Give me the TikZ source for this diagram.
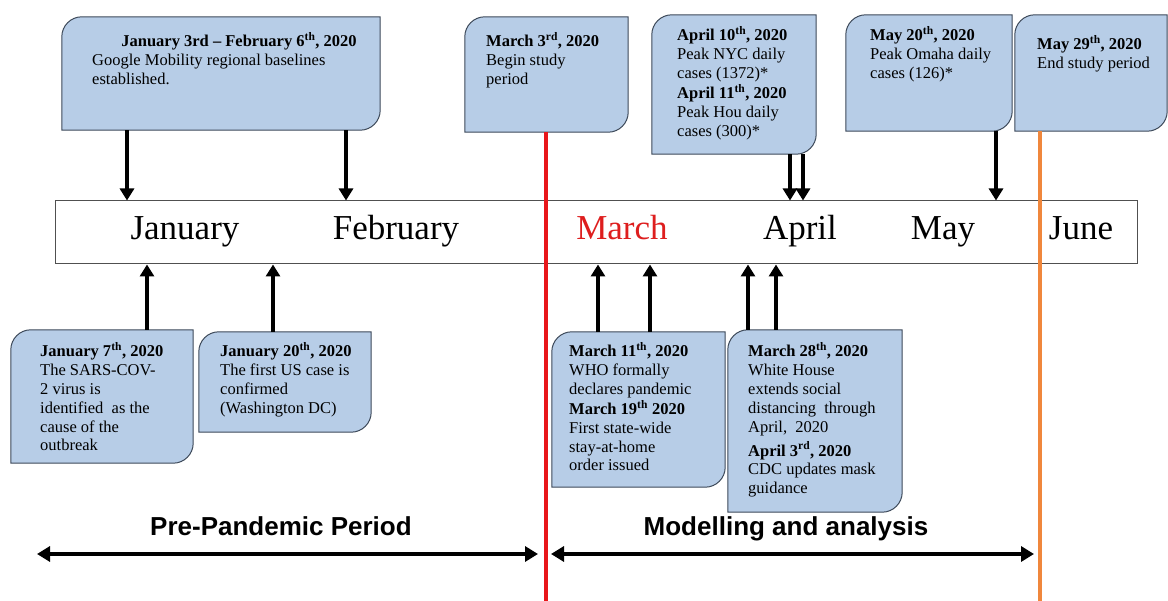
\documentclass[tikz,border=0pt]{standalone}
\usepackage{fontspec}
\setmainfont{Liberation Serif}
\newfontfamily\arialfont{Liberation Sans}
\usetikzlibrary{arrows.meta,fit}
\definecolor{boxfill}{RGB}{183,205,231}
\definecolor{boxline}{RGB}{62,74,90}
\definecolor{barline}{RGB}{80,80,80}
\definecolor{redline}{RGB}{232,22,26}
\definecolor{orangeline}{RGB}{240,135,60}
\definecolor{marchred}{RGB}{222,30,30}
\newcommand\roundbox[1]{%
  \path[draw=boxline, fill=boxfill, line width=1pt]
    (#1.south west) -- ([yshift=-20pt]#1.north west)
    .. controls ([yshift=-9pt]#1.north west) and ([xshift=9pt]#1.north west) .. ([xshift=20pt]#1.north west)
    -- (#1.north east) -- ([yshift=20pt]#1.south east)
    .. controls ([yshift=9pt]#1.south east) and ([xshift=-9pt]#1.south east) .. ([xshift=-20pt]#1.south east)
    -- cycle;}
\newcommand\evlines[1]{\begin{tabular}[t]{@{}l@{}}#1\end{tabular}}
\tikzset{
  frame/.style={inner sep=0pt, draw=none},
  txt/.style={anchor=base west, inner sep=0pt, font=\fontsize{16.5}{18.8}\selectfont},
  month/.style={anchor=base, inner sep=0pt, font=\fontsize{35}{40}\selectfont},
  period/.style={anchor=base, inner sep=0pt, font=\arialfont\bfseries\fontsize{26}{30}\selectfont},
  varrow/.style={line width=3.2pt, -{Triangle[length=12pt,width=14pt]}},
  harrow/.style={line width=3.4pt, {Triangle[length=13pt,width=15pt]}-{Triangle[length=13pt,width=15pt]}},
}
\begin{document}
\begin{tikzpicture}[x=1pt, y=-1pt]
\useasboundingbox (0,0) rectangle (1168,601);
\fill[white] (0,0) rectangle (1168,601);

% timeline bar
\node[fit={(55,201) (1137,264)}, inner sep=0pt, draw=barline, line width=1pt, fill=white] (bar) {};
\node[month] (jan) at (185,240) {January};
\node[month] (feb) at (396,240) {February};
\node[month, text=marchred] (mar) at (622,240) {March};
\node[month] (apr) at (800,240) {April};
\node[month] (may) at (943,240) {May};
\node[month] (jun) at (1081,240) {June};

% top boxes
\node[frame, fit={(62,17) (380,130)}] (b1) {};
\roundbox{b1}
\node[anchor=base, inner sep=0pt, font=\fontsize{16.5}{18.8}\selectfont] (b1t) at (239,47) {\textbf{January 3rd -- February 6\textsuperscript{th}, 2020}};
\node[txt] (b1b) at (92,66) {\evlines{Google Mobility regional baselines\\established.}};

\node[frame, fit={(465,17) (628,132)}] (b2) {};
\roundbox{b2}
\node[txt] (b2t) at (486,47) {\evlines{\textbf{March 3\textsuperscript{rd}, 2020}\\Begin study\\period}};

\node[frame, fit={(652,15) (816,154)}] (b3) {};
\roundbox{b3}
\node[txt] (b3t) at (677,41) {\evlines{\textbf{April 10\textsuperscript{th}, 2020}\\Peak NYC daily\\cases (1372)*\\\textbf{April 11\textsuperscript{th}, 2020}\\Peak Hou daily\\cases (300)*}};

\node[frame, fit={(846,15) (1012,131)}] (b4) {};
\roundbox{b4}
\node[txt] (b4t) at (870,41) {\evlines{\textbf{May 20\textsuperscript{th}, 2020}\\Peak Omaha daily\\cases (126)*}};

\node[frame, fit={(1015,15) (1167,131)}] (b5) {};
\roundbox{b5}
\node[txt] (b5t) at (1037,50) {\evlines{\textbf{May 29\textsuperscript{th}, 2020}\\End study period}};

% bottom boxes
\node[frame, fit={(11,330) (193,463)}] (c1) {};
\roundbox{c1}
\node[txt] (c1t) at (40,357) {\evlines{\textbf{January 7\textsuperscript{th}, 2020}\\The SARS-COV-\\2 virus is\\identified~ as the\\cause of the\\outbreak}};

\node[frame, fit={(199,332) (371,432)}] (c2) {};
\roundbox{c2}
\node[txt] (c2t) at (220,357) {\evlines{\textbf{January 20\textsuperscript{th}, 2020}\\The first US case is\\confirmed\\(Washington DC)}};

\node[frame, fit={(552,332) (725,487)}] (c3) {};
\roundbox{c3}
\node[txt] (c3t) at (569,357) {\evlines{\textbf{March 11\textsuperscript{th}, 2020}\\WHO formally\\declares pandemic\\\textbf{March 19\textsuperscript{th} 2020}\\First state-wide\\stay-at-home\\order issued}};

\node[frame, fit={(728,330) (902,512)}] (c4) {};
\roundbox{c4}
\node[txt] (c4t) at (748,357) {\evlines{\textbf{March 28\textsuperscript{th}, 2020}\\White House\\extends social\\distancing~ through\\April,~ 2020\\[4pt]\textbf{April 3\textsuperscript{rd}, 2020}\\CDC updates mask\\guidance}};

% study period lines
\coordinate (redend) at (546,601);
\coordinate (orangeend) at (1040,601);
\draw[redline, line width=4pt] (546,0 |- b2.south) -- (redend);
\draw[orangeline, line width=4pt] (1040,0 |- b5.south) -- (orangeend);

% arrows from top boxes
\draw[varrow] (127,0 |- b1.south) -- (127,0 |- bar.north);
\draw[varrow] (346,0 |- b1.south) -- (346,0 |- bar.north);
\draw[varrow] (790,0 |- b3.south) -- (790,0 |- bar.north);
\draw[varrow] (803,0 |- b3.south) -- (803,0 |- bar.north);
\draw[varrow] (996,0 |- b4.south) -- (996,0 |- bar.north);

% arrows from bottom boxes
\draw[varrow] (147,0 |- c1.north) -- (147,0 |- bar.south);
\draw[varrow] (273,0 |- c2.north) -- (273,0 |- bar.south);
\draw[varrow] (598,0 |- c3.north) -- (598,0 |- bar.south);
\draw[varrow] (650,0 |- c3.north) -- (650,0 |- bar.south);
\draw[varrow] (748,0 |- c4.north) -- (748,0 |- bar.south);
\draw[varrow] (776,0 |- c4.north) -- (776,0 |- bar.south);

% periods
\coordinate (pa) at (37,554);
\coordinate (pb) at (538,554);
\coordinate (ma) at (551,554);
\coordinate (mb) at (1034,554);
\draw[harrow] (pa) -- (pb);
\draw[harrow] (ma) -- (mb);
\node[period] (prelabel) at (281,535) {Pre-Pandemic Period};
\node[period] (modlabel) at (786,535) {Modelling and analysis};
\end{tikzpicture}
\end{document}
